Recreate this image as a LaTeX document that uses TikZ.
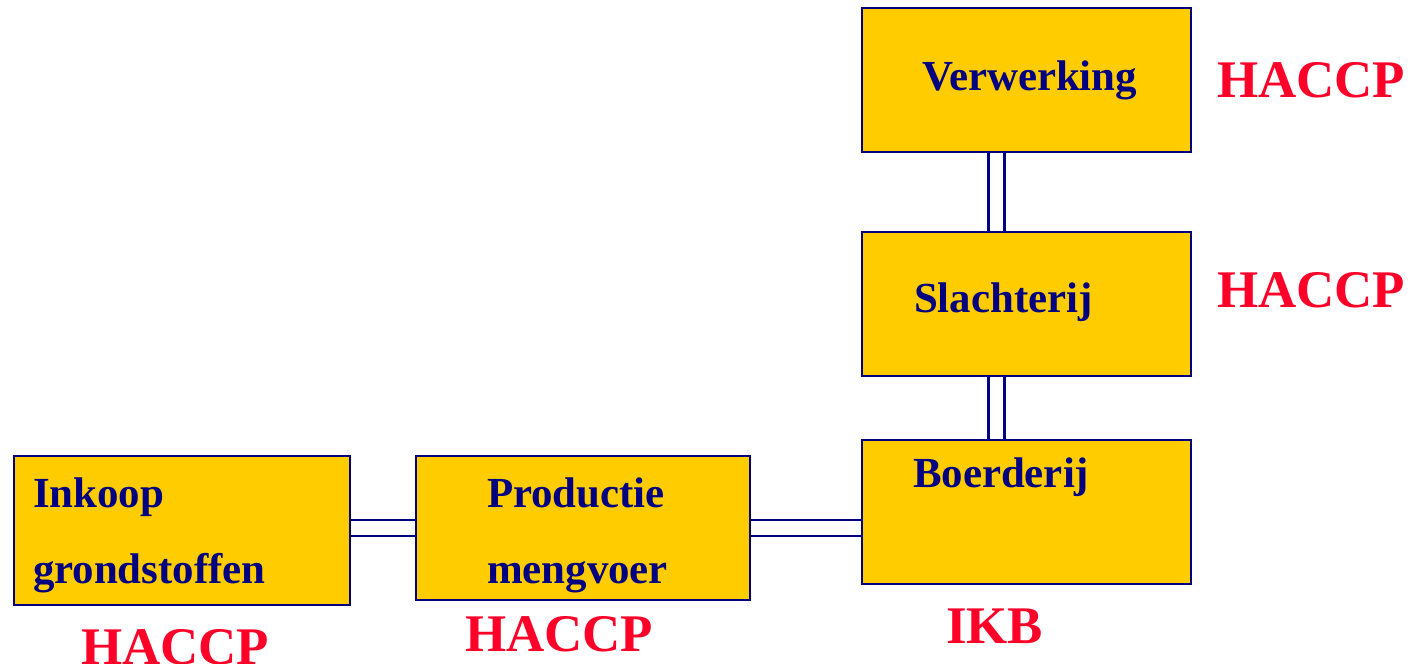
\documentclass[tikz,border=0pt]{standalone}
\usepackage{fontspec}
\setmainfont{Liberation Serif}
\usepackage{xcolor}
\usetikzlibrary{positioning,backgrounds}
\definecolor{boxfill}{RGB}{255,204,0}
\definecolor{boxline}{RGB}{0,0,128}
\definecolor{tagred}{RGB}{255,0,40}

\begin{document}
\begin{tikzpicture}[x=0.02cm, y=-0.02cm, outer sep=0pt,
    box/.style={draw=boxline, line width=0.045cm, fill=boxfill, rectangle, minimum width=6.58cm, minimum height=2.88cm},
    boxtext/.style={anchor=base west, inner sep=0pt, text=boxline, font=\fontsize{24.4pt}{28pt}\selectfont\bfseries},
    tag/.style={anchor=base west, inner sep=0pt, text=tagred, font=\fontsize{30.1pt}{34pt}\selectfont\bfseries},
    link/.style={draw=boxline, line width=0.05cm, double=white, double distance=0.27cm}]
    \useasboundingbox (0,0) rectangle (1410,663);

    % chain of boxes
    \node [box] (V) at (1026.5,80) {};
    \node [box] (S) at (1026.5,304) {};
    \node [box] (B) at (1026.5,512) {};
    \node [box, minimum width=6.72cm, minimum height=2.98cm] (I) at (182,530.5) {};
    \node [box, minimum width=6.68cm] (P) at (583,528) {};

    % box texts
    \node [boxtext] (Vt) at (922,90) {Verwerking};
    \node [boxtext] (St) at (914,312) {Slachterij};
    \node [boxtext] (Bt) at (913,487) {Boerderij};
    \node [boxtext] (It1) at (33,507) {Inkoop};
    \node [boxtext] (It2) at (33,583) {grondstoffen};
    \node [boxtext] (Pt1) at (487,507) {Productie};
    \node [boxtext] (Pt2) at (487,583) {mengvoer};

    % quality systems
    \node [tag] (hV) at (1217,97) {HACCP};
    \node [tag] (hS) at (1217,307) {HACCP};
    \node [tag] (hI) at (81,664) {HACCP};
    \node [tag] (hP) at (465,651) {HACCP};
    \node [tag] (kB) at (946,643) {IKB};

    % double connectors
    \begin{scope}[on background layer]
        \draw [link] (I.east |- P.west) -- (P.west);
        \draw [link] (P.east) -- (P.east -| B.west);
        \draw [link] ([xshift=-0.6cm]V.south) -- ([xshift=-0.6cm]S.north);
        \draw [link] ([xshift=-0.6cm]S.south) -- ([xshift=-0.6cm]B.north);
    \end{scope}
\end{tikzpicture}
\end{document}
